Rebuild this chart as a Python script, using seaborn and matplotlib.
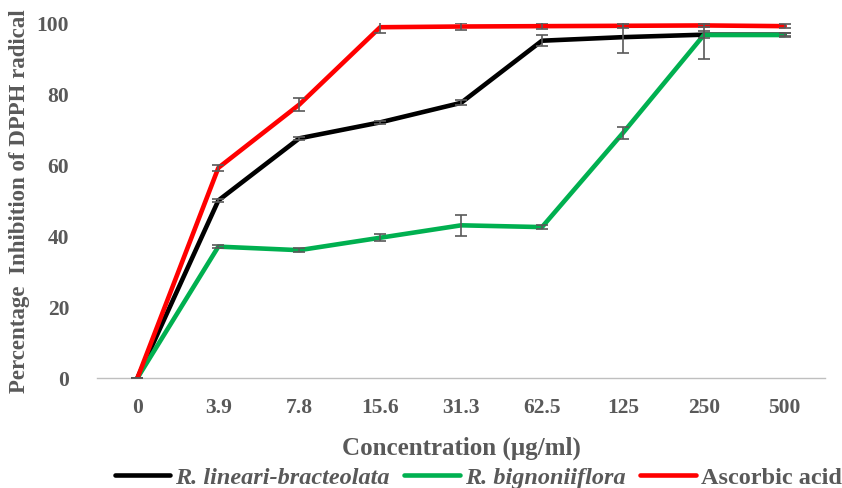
import matplotlib
matplotlib.use("Agg")
import matplotlib.pyplot as plt
import seaborn as sns
import numpy as np
import pandas as pd

concentrations = ["0", "3.9", "7.8", "15.6", "31.3", "62.5", "125", "250", "500"]
series_names = ["R. lineari-bracteolata", "R. bignoniiflora", "Ascorbic acid"]

lineari = [0, 50.0, 67.5, 72.0, 77.5, 95.0, 96.0, 96.7, 96.7]
bignon = [0, 37.0, 36.0, 39.5, 43.0, 42.5, 69.0, 96.6, 96.6]
ascorbic = [0, 59.2, 77.0, 98.8, 99.0, 99.1, 99.2, 99.3, 99.1]

lineari_err = [0, 0.5, 0.5, 0.5, 0.7, 1.5, 4.5, 1.0, 0.5]
bignon_err = [0, 0.5, 0.5, 1.0, 3.0, 0.6, 1.7, 6.8, 0.6]
ascorbic_err = [0, 0.8, 1.8, 1.5, 1.0, 0.8, 0.6, 0.5, 0.5]

colors = {"R. lineari-bracteolata": "#000000",
          "R. bignoniiflora": "#00B050",
          "Ascorbic acid": "#FF0000"}
grey = "#595959"

values = [lineari, bignon, ascorbic]
errors = [lineari_err, bignon_err, ascorbic_err]

rows = []
for name, vals, errs in zip(series_names, values, errors):
    for i, (c, v, e) in enumerate(zip(concentrations, vals, errs)):
        rows.append({"pos": i, "conc": c, "value": v, "err": e, "series": name})
df = pd.DataFrame(rows)

sns.set_style("white")
plt.rcParams["font.family"] = ["Liberation Serif", "DejaVu Serif"]
plt.rcParams["font.weight"] = "bold"

fig, ax = plt.subplots(figsize=(8.42, 4.89), dpi=100)
fig.subplots_adjust(left=0.1152, right=0.98, top=0.951, bottom=0.225)

sns.lineplot(data=df, x="pos", y="value", hue="series", palette=colors,
             hue_order=series_names, sort=False, linewidth=3.3, ax=ax,
             legend=False, zorder=2)

for name in series_names:
    sub = df[df["series"] == name]
    ax.errorbar(sub["pos"], sub["value"], yerr=sub["err"], fmt="none",
                ecolor=grey, elinewidth=1.2, capsize=4, capthick=1.2, zorder=3)

ax.set_xlim(-0.5, len(concentrations) - 0.5)
ax.set_ylim(0, 100)
ax.set_xticks(range(len(concentrations)))
ax.set_xticklabels(concentrations)
ax.set_yticks([0, 20, 40, 60, 80, 100])

for s in ["top", "right", "left"]:
    ax.spines[s].set_visible(False)
ax.spines["bottom"].set_color("#BFBFBF")
ax.spines["bottom"].set_linewidth(1.0)

ax.tick_params(axis="both", length=0, labelsize=15.5, labelcolor=grey)
ax.tick_params(axis="x", pad=14)
ax.tick_params(axis="y", pad=20)
for lbl in ax.get_xticklabels() + ax.get_yticklabels():
    lbl.set_fontweight("bold")

ax.set_xlabel("Concentration (\u00b5g/ml)", fontsize=18, fontweight="bold",
              color=grey, labelpad=13)
ax.set_ylabel("Percentage  Inhibition of DPPH radical", fontsize=16.5,
              fontweight="bold", color=grey, labelpad=5)

handles = [plt.Line2D([], [], color=colors[n], linewidth=3.3) for n in series_names]
leg = fig.legend(handles, series_names, loc="center",
                 bbox_to_anchor=(0.568, 1 - 478 / 489), ncol=3, frameon=False,
                 handlelength=2.3, handletextpad=0.2, columnspacing=0.6,
                 prop={"size": 17.5, "weight": "bold"})
for t in leg.get_texts():
    t.set_color(grey)
    if t.get_text().startswith("R."):
        t.set_fontstyle("italic")

fig.savefig("out.png", dpi=100)
